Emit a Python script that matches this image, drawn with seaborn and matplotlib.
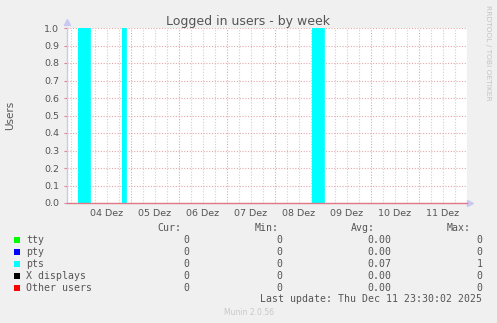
import matplotlib
matplotlib.use("Agg")
import matplotlib.pyplot as plt
import matplotlib.dates as mdates
import matplotlib.ticker as mticker
from matplotlib.patches import Rectangle
import pandas as pd
import seaborn as sns

# ---------------- data ----------------
time_points = ["2025-12-03 16:00", "2025-12-03 21:30", "2025-12-04 03:30",
               "2025-12-04 19:30", "2025-12-04 21:20", "2025-12-08 18:20",
               "2025-12-09 00:40", "2025-12-12 00:00"]
pts_values = [0, 1, 0, 1, 0, 1, 0, 0]
y_ticks = [0.0, 0.1, 0.2, 0.3, 0.4, 0.5, 0.6, 0.7, 0.8, 0.9, 1.0]

series_names = ["tty", "pty", "pts", "X displays", "Other users"]
series_colors = ["#00ff00", "#0000ff", "#00ffff", "#000000", "#ff0000"]
cur_values = ["0", "0", "0", "0", "0"]
min_values = ["0", "0", "0", "0", "0"]
avg_values = ["0.00", "0.00", "0.07", "0.00", "0.00"]
max_values = ["0", "0", "1", "0", "0"]

title = "Logged in users - by week"
y_label = "Users"
last_update = "Last update: Thu Dec 11 23:30:02 2025"
footer = "Munin 2.0.56"
side_text = "RRDTOOL / TOBI OETIKER"

# ---------------- figure ----------------
sns.set_style("white")
W, H = 497, 323
fig = plt.figure(figsize=(W / 100, H / 100), dpi=100, facecolor="#f0f0f0")

def fx(px):
    return px / W

def fy(py):
    return 1 - py / H

ax = fig.add_axes([fx(67), fy(203), fx(467) - fx(67), fy(28) - fy(203)])
ax.set_facecolor("white")

df = pd.DataFrame({"time": pd.to_datetime(time_points), "users": pts_values})

ax.fill_between(df["time"], df["users"], 0, step="post", color="#00ffff", lw=0, zorder=2)
sns.lineplot(data=df, x="time", y="users", drawstyle="steps-post", color="#00ffff",
             lw=0.6, ax=ax, zorder=2)

ax.set_xlim(df["time"].iloc[0], df["time"].iloc[-1])
ax.set_ylim(0, 1.0)

text_col = "#555555"
red_grid = "#e6a8a8"
gray_grid = "#d0d0d0"

# x axis: midnights major (red), 6h minor (gray), labels at noon
ax.xaxis.set_major_locator(mdates.DayLocator())
ax.xaxis.set_major_formatter(mticker.NullFormatter())
ax.xaxis.set_minor_locator(mdates.HourLocator(byhour=[6, 12, 18]))

def noon_fmt(x, pos=None):
    d = mdates.num2date(x)
    return d.strftime("%d Dez") if d.hour == 12 else ""

ax.xaxis.set_minor_formatter(mticker.FuncFormatter(noon_fmt))
ax.tick_params(axis="x", which="major", length=3, width=0.8, color="#e08090", direction="out")
ax.tick_params(axis="x", which="minor", length=0, pad=4, labelsize=6.8, labelcolor=text_col)

ax.set_yticks(y_ticks)
ax.yaxis.set_major_formatter(mticker.FormatStrFormatter("%.1f"))
ax.tick_params(axis="y", which="major", length=2, width=0.8, color="#e08090",
               pad=3.5, labelsize=6.8, labelcolor=text_col, left=True)

ax.grid(True, which="major", axis="both", color=red_grid, ls=(0, (1, 1.5)), lw=0.8, zorder=1)
ax.grid(True, which="minor", axis="x", color=gray_grid, ls=(0, (1, 1.5)), lw=0.8, zorder=1)
ax.set_axisbelow(True)

for s in ["top", "right"]:
    ax.spines[s].set_visible(False)
ax.spines["left"].set_color("#c8c8f0")
ax.spines["left"].set_linewidth(1.0)
ax.spines["bottom"].set_color("#e07888")
ax.spines["bottom"].set_linewidth(1.0)
ax.spines["bottom"].set_zorder(5)

# axis arrows
ax.plot([0], [1.035], marker="^", ms=5, color="#c8c8f0", transform=ax.transAxes, clip_on=False)
ax.plot([1.008], [0], marker=">", ms=5, color="#c8c8f0", transform=ax.transAxes, clip_on=False)

ax.set_xlabel("")
ax.set_ylabel("")

# texts
fig.text(fx(248.5), fy(24.5), title, ha="center", va="baseline", fontsize=9, color=text_col)
fig.text(fx(10.5), fy(115.5), y_label, ha="center", va="center", rotation=90,
         fontsize=7.5, color=text_col)
fig.text(fx(488), fy(5), side_text, ha="center", va="top", rotation=270,
         fontsize=5.4, color="#c4c4c4")
fig.text(fx(248.5), fy(315), footer, ha="center", va="baseline", fontsize=5.5, color="#c8c8c8")

mono = dict(family="DejaVu Sans Mono", fontsize=7.1, color=text_col, va="baseline")
header_y = 231
fig.text(fx(181.5), fy(header_y), "Cur:", ha="right", **mono)
fig.text(fx(278.5), fy(header_y), "Min:", ha="right", **mono)
fig.text(fx(374.5), fy(header_y), "Avg:", ha="right", **mono)
fig.text(fx(470.5), fy(header_y), "Max:", ha="right", **mono)

for i, name in enumerate(series_names):
    base = 243 + 12 * i
    fig.patches.append(Rectangle((fx(14), fy(base)), fx(6), fy(base - 6) - fy(base),
                                 transform=fig.transFigure, facecolor=series_colors[i],
                                 edgecolor="none"))
    fig.text(fx(26), fy(base), name, ha="left", **mono)
    fig.text(fx(189.5), fy(base), cur_values[i], ha="right", **mono)
    fig.text(fx(282), fy(base), min_values[i], ha="right", **mono)
    fig.text(fx(391), fy(base), avg_values[i], ha="right", **mono)
    fig.text(fx(482.5), fy(base), max_values[i], ha="right", **mono)

fig.text(fx(482.5), fy(302.5), last_update, ha="right", **mono)

fig.savefig("out.png", dpi=100, facecolor=fig.get_facecolor())
